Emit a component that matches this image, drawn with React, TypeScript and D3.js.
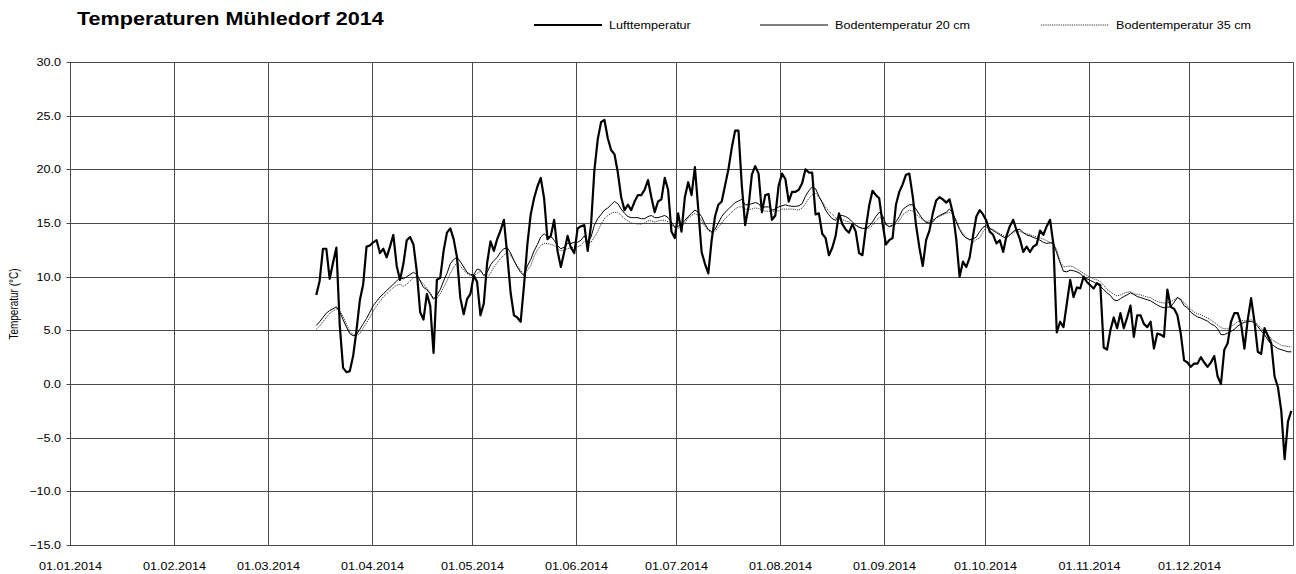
import React from "react";
import * as d3 from "d3";

const W = 1296;
const H = 574;

const title = "Temperaturen Mühledorf 2014";
const seriesNames = ["Lufttemperatur", "Bodentemperatur 20 cm", "Bodentemperatur 35 cm"];
const yTicks = [-15, -10, -5, 0, 5, 10, 15, 20, 25, 30];
const monthLabels = [
  "01.01.2014", "01.02.2014", "01.03.2014", "01.04.2014", "01.05.2014", "01.06.2014",
  "01.07.2014", "01.08.2014", "01.09.2014", "01.10.2014", "01.11.2014", "01.12.2014",
];

// daily means from 15.03.2014 to 31.12.2014
const firstDay = "2014-03-15";

const airTemp = [
  8.3, 9.6, 12.6, 12.6, 9.8, 11.3, 12.7, 5.5, 1.5, 1.1,
  1.2, 2.6, 5.0, 7.8, 9.3, 12.8, 12.9, 13.2, 13.4, 12.2,
  12.6, 11.8, 12.8, 13.9, 11.0, 9.7, 11.2, 13.4, 13.7, 13.0,
  10.5, 6.7, 6.0, 8.4, 7.3, 2.9, 9.7, 9.9, 12.4, 14.1,
  14.5, 13.5, 11.8, 8.0, 6.5, 7.9, 8.4, 10.1, 9.5, 6.4,
  7.5, 11.3, 13.3, 12.4, 13.5, 14.3, 15.3, 12.0, 8.5, 6.4,
  6.2, 5.8, 9.2, 13.0, 15.8, 17.3, 18.4, 19.2, 17.3, 13.5,
  13.8, 15.3, 12.4, 10.9, 12.3, 13.8, 12.7, 12.2, 14.5, 14.7,
  14.8, 12.4, 14.8, 19.9, 22.8, 24.4, 24.6, 22.9, 21.8, 21.4,
  19.7, 17.4, 16.2, 16.7, 16.2, 17.0, 17.6, 17.6, 18.1, 19.0,
  17.4, 16.0, 17.0, 17.2, 19.2, 18.1, 14.2, 13.6, 15.9, 14.2,
  17.4, 18.8, 17.6, 20.2, 16.3, 12.3, 11.2, 10.3, 13.4, 15.6,
  16.7, 17.0, 18.5, 20.0, 22.0, 23.6, 23.6, 18.5, 14.8, 16.5,
  19.5, 20.3, 19.6, 16.0, 17.6, 17.7, 15.3, 15.7, 18.5, 19.6,
  19.1, 17.0, 17.9, 17.9, 18.1, 18.7, 20.0, 19.7, 19.7, 15.8,
  15.9, 14.0, 13.6, 12.0, 12.7, 13.8, 15.9, 14.9, 14.4, 14.1,
  14.9, 14.2, 12.2, 12.0, 14.5, 16.6, 18.0, 17.6, 17.3, 15.0,
  13.0, 13.4, 13.6, 16.7, 17.9, 18.6, 19.5, 19.6, 17.5, 14.8,
  12.7, 11.0, 13.4, 14.3, 15.9, 17.1, 17.4, 17.2, 16.9, 17.2,
  15.9, 13.5, 10.0, 11.4, 10.9, 11.8, 13.8, 15.6, 16.2, 15.8,
  15.2, 14.2, 13.9, 13.1, 13.4, 12.3, 13.8, 14.7, 15.3, 14.3,
  13.5, 12.3, 12.8, 12.3, 12.8, 13.0, 14.3, 13.9, 14.7, 15.3,
  13.0, 4.8, 5.8, 5.3, 7.5, 9.7, 8.1, 9.0, 8.9, 10.0,
  9.5, 9.2, 8.9, 9.4, 9.2, 3.4, 3.2, 5.0, 6.2, 5.2,
  6.6, 5.2, 6.2, 7.3, 4.4, 6.4, 6.4, 5.6, 5.3, 5.8,
  3.3, 4.7, 4.6, 4.4, 8.8, 7.2, 7.0, 6.4, 4.7, 2.2,
  2.0, 1.6, 1.9, 1.9, 2.5, 2.0, 1.6, 2.0, 2.6, 0.7,
  0.0, 3.2, 3.8, 5.8, 6.6, 6.6, 5.6, 3.3, 6.0, 8.0,
  5.8, 3.0, 2.8, 5.2, 4.5, 3.8, 0.7, -0.3, -2.5, -7.0,
  -3.5, -2.5,
];

const soil20 = [
  5.45, 5.8, 6.2, 6.6, 6.85, 7.0, 7.2, 6.7, 6.0, 5.3,
  4.7, 4.5, 4.6, 5.1, 5.6, 6.1, 6.7, 7.3, 7.7, 8.1,
  8.4, 8.7, 9.0, 9.3, 9.6, 9.9, 9.8, 10.0, 10.2, 10.4,
  10.2, 9.6, 9.0, 8.8, 8.4, 7.9, 8.3, 8.8, 9.6, 10.3,
  11.2, 11.6, 11.8, 11.4, 10.9, 10.4, 10.2, 10.2, 10.7, 10.6,
  10.1, 10.4, 11.1, 11.5, 11.8, 12.3, 12.6, 12.7, 12.2, 11.5,
  10.9, 10.4, 10.1, 11.0, 11.6, 12.4, 13.0, 13.7, 14.0, 13.7,
  13.75, 13.4, 12.9, 12.6, 12.75, 13.1, 13.1, 13.2, 13.2, 13.4,
  13.8, 13.2, 13.7, 14.8, 15.4, 15.8, 16.2, 16.4, 16.7, 17.0,
  16.8, 16.3, 15.9, 15.6, 15.5, 15.5, 15.5, 15.4, 15.4, 15.6,
  15.7, 15.5, 15.5, 15.6, 15.7, 15.5, 15.1, 14.6, 14.7, 14.9,
  15.25, 15.6, 15.9, 16.2, 16.0, 15.6, 14.9, 14.4, 14.2, 14.4,
  15.0, 15.6, 16.0, 16.3, 16.6, 16.9, 17.05, 17.2, 16.7, 16.7,
  16.8, 16.9, 16.8, 16.4, 16.5, 16.5, 16.2, 16.3, 16.5, 16.6,
  16.7, 16.6, 16.55, 16.55, 16.6, 16.8, 17.5, 18.0, 18.35, 18.2,
  17.5, 16.9, 16.2, 15.75, 15.4, 15.25, 15.7, 15.7, 15.6, 15.4,
  15.1, 14.8, 14.6, 14.5, 14.5, 14.7, 15.1, 15.6, 16.0, 15.7,
  14.9, 14.65, 14.8, 15.1, 15.6, 16.25, 16.5, 16.7, 16.7, 16.3,
  15.8, 15.35, 15.05, 15.0, 15.1, 15.5, 15.7, 15.85, 16.0, 16.3,
  15.9, 15.1, 14.4, 13.85, 13.6, 13.45, 13.5, 13.7, 14.2, 14.6,
  14.75, 14.5, 14.3, 14.1, 13.9, 13.7, 13.6, 13.9, 14.2, 14.4,
  14.4, 14.1, 13.9, 13.8, 13.65, 13.55, 13.4, 13.2, 13.1, 13.15,
  13.1, 12.2, 11.3, 10.5, 10.45, 10.6, 10.55, 10.45, 10.3, 9.95,
  9.8, 9.65, 9.5, 9.3, 9.1, 8.8, 8.5, 8.25, 7.85, 7.75,
  7.95, 8.15, 8.3, 8.5, 8.35, 8.15, 8.05, 7.95, 7.85, 7.75,
  7.55, 7.35, 7.2, 7.1, 7.15, 7.2, 7.6, 8.05, 7.85, 7.3,
  7.1, 6.7, 6.45, 6.25, 6.15, 6.0, 5.85, 5.6, 5.45, 5.15,
  4.6, 4.6, 4.75, 4.9, 5.1, 5.4, 5.6, 5.75, 5.8, 5.85,
  5.7, 5.35, 4.95, 4.6, 4.1, 3.7, 3.5, 3.3, 3.2, 3.1,
  3.0, 3.0,
];

const soil35 = [
  5.1, 5.4, 5.8, 6.2, 6.6, 6.8, 7.0, 6.8, 6.3, 5.6,
  4.9, 4.6, 4.5, 4.7, 5.2, 5.7, 6.2, 6.8, 7.3, 7.7,
  8.1, 8.4, 8.7, 9.0, 9.2, 9.3, 9.1, 9.3, 9.6, 9.9,
  10.0, 9.7, 9.3, 8.9, 8.5, 8.0, 8.0, 8.4, 9.0, 9.6,
  10.3, 10.9, 11.3, 11.0, 10.6, 10.3, 10.1, 10.1, 10.3, 10.5,
  10.2, 9.9, 10.3, 10.9, 11.3, 11.7, 12.0, 12.3, 12.0, 11.5,
  11.0, 10.6, 10.2, 10.6, 11.0, 11.9, 12.5, 12.9, 13.1, 13.1,
  13.0, 12.9, 12.6, 12.4, 12.5, 12.6, 12.7, 12.75, 12.8, 12.9,
  13.3, 13.3, 13.2, 13.7, 14.2, 14.9, 15.4, 15.7, 15.9, 16.0,
  16.0, 15.7, 15.4, 15.2, 15.0, 14.95, 14.9, 14.9, 15.0, 15.2,
  15.2, 15.1, 15.2, 15.25, 15.25, 15.1, 14.8, 14.6, 14.5, 14.7,
  15.0, 15.5, 15.7, 15.9, 15.7, 15.25, 14.7, 14.3, 14.1, 14.2,
  14.6, 15.0, 15.4, 15.7, 16.0, 16.3, 16.5, 16.5, 16.3, 16.25,
  16.3, 16.4, 16.35, 16.2, 16.1, 16.1, 16.1, 16.1, 16.15, 16.3,
  16.3, 16.3, 16.3, 16.25, 16.2, 16.4, 16.8, 17.3, 17.6, 17.8,
  17.4, 17.0, 16.5, 16.1, 15.8, 15.5, 15.4, 15.3, 15.2, 15.1,
  14.9, 14.8, 14.6, 14.5, 14.5, 14.5, 14.8, 15.2, 15.5, 15.5,
  14.8, 14.7, 14.7, 14.9, 15.2, 15.75, 16.0, 16.2, 16.1, 15.8,
  15.55, 15.3, 15.15, 15.2, 15.3, 15.45, 15.6, 15.75, 15.9, 16.0,
  15.8, 15.3, 14.5, 14.0, 13.7, 13.4, 13.2, 13.45, 13.6, 14.2,
  14.6, 14.5, 14.4, 14.2, 14.0, 13.85, 13.7, 13.9, 14.1, 14.3,
  14.2, 14.1, 14.0, 13.9, 13.8, 13.7, 13.6, 13.5, 13.35, 13.2,
  13.1, 12.5, 11.4, 10.9, 10.95, 11.0, 10.9, 10.7, 10.5, 10.3,
  10.1, 9.95, 9.8, 9.7, 9.55, 9.2, 8.8, 8.6, 8.35, 8.2,
  8.3, 8.45, 8.55, 8.6, 8.4, 8.35, 8.3, 8.2, 8.1, 8.05,
  7.85, 7.7, 7.6, 7.55, 7.55, 7.65, 7.85, 8.05, 7.9, 7.6,
  7.25, 6.95, 6.7, 6.55, 6.45, 6.3, 6.15, 5.95, 5.75, 5.5,
  5.25, 5.15, 5.15, 5.35, 5.55, 5.8, 5.9, 5.9, 5.9, 6.0,
  5.85, 5.5, 5.2, 4.85, 4.6, 4.2, 3.95, 3.8, 3.6, 3.55,
  3.5, 3.45,
];

const FONT = "'Liberation Sans', Arial, Helvetica, sans-serif";
const SX = 1.2; // the original picture is stretched horizontally
const GRID = "#4a4a4a";

const margin = { top: 62, right: 3, bottom: 29, left: 70 };

const parseDay = d3.timeParse("%Y-%m-%d");
const parseLabel = d3.timeParse("%d.%m.%Y");
const start = parseDay(firstDay) as Date;
// values are daily means, plotted at midday
const dayAt = (i: number) => d3.timeHour.offset(d3.timeDay.offset(start, i), 12);

function Label({ x, y, anchor = "start", size = 11, weight = "normal", children }: any) {
  return (
    <text
      transform={`translate(${x},${y}) scale(${SX},1)`}
      textAnchor={anchor}
      fontFamily={FONT}
      fontSize={size}
      fontWeight={weight}
      fill="#000"
    >
      {children}
    </text>
  );
}

export default function App() {
  const x = d3
    .scaleTime()
    .domain([new Date(2014, 0, 1), new Date(2015, 0, 1)])
    .range([margin.left, W - margin.right]);
  const y = d3
    .scaleLinear()
    .domain([-15, 30])
    .range([H - margin.bottom, margin.top]);

  const line = d3
    .line<number>()
    .x((_, i) => x(dayAt(i)))
    .y((d) => y(d));

  const crisp = (v: number) => Math.round(v) + 0.5;
  const x0 = crisp(x.range()[0]);
  const x1 = crisp(x.range()[1]);
  const yTop = crisp(y(30));
  const yBot = crisp(y(-15));

  const series = [
    { name: seriesNames[0], values: airTemp, width: 2.2, dash: undefined, color: "#000" },
    { name: seriesNames[1], values: soil20, width: 1, dash: undefined, color: "#000" },
    { name: seriesNames[2], values: soil35, width: 1, dash: "1.2 1", color: "#333" },
  ];
  const legendX = [534, 760, 1041];

  return (
    <svg
      width={W}
      height={H}
      style={{ position: "absolute", left: 0, top: 0, background: "#fff" }}
    >
      <rect width={W} height={H} fill="#fff" />

      <Label x={77} y={25} size={18} weight="bold">
        {title}
      </Label>

      {/* legend */}
      {series.map((s, i) => (
        <g key={s.name}>
          <line
            x1={legendX[i]}
            x2={legendX[i] + 68}
            y1={25}
            y2={25}
            stroke={s.color}
            strokeWidth={s.width}
            strokeDasharray={s.dash}
          />
          <Label x={legendX[i] + 75} y={29} size={10.5}>
            {s.name}
          </Label>
        </g>
      ))}

      {/* horizontal grid + y ticks */}
      {yTicks.map((t) => (
        <g key={t}>
          <line x1={x0 - 4} x2={x1} y1={crisp(y(t))} y2={crisp(y(t))} stroke={GRID} strokeWidth={1} />
          <Label x={61} y={y(t) + 4} anchor="end" size={10.5}>
            {d3.format(".1f")(t)}
          </Label>
        </g>
      ))}

      {/* vertical grid + month labels */}
      {monthLabels.map((m) => {
        const px = crisp(x(parseLabel(m) as Date));
        return (
          <g key={m}>
            <line x1={px} x2={px} y1={yTop} y2={yBot} stroke={GRID} strokeWidth={1} />
            <Label x={px} y={570} anchor="middle" size={10.5}>
              {m}
            </Label>
          </g>
        );
      })}
      <line x1={x1} x2={x1} y1={yTop} y2={yBot} stroke={GRID} strokeWidth={1} />

      <text
        transform={`translate(18,${(yTop + yBot) / 2}) rotate(-90) scale(1,${SX})`}
        textAnchor="middle"
        fontFamily={FONT}
        fontSize={10}
        fill="#000"
      >
        Temperatur (°C)
      </text>

      {/* data lines, soil first so air temperature sits on top */}
      {[series[2], series[1], series[0]].map((s) => (
        <path
          key={s.name}
          d={line(s.values) as string}
          fill="none"
          stroke={s.color}
          strokeWidth={s.width}
          strokeDasharray={s.dash}
          strokeLinejoin="round"
        />
      ))}
    </svg>
  );
}
